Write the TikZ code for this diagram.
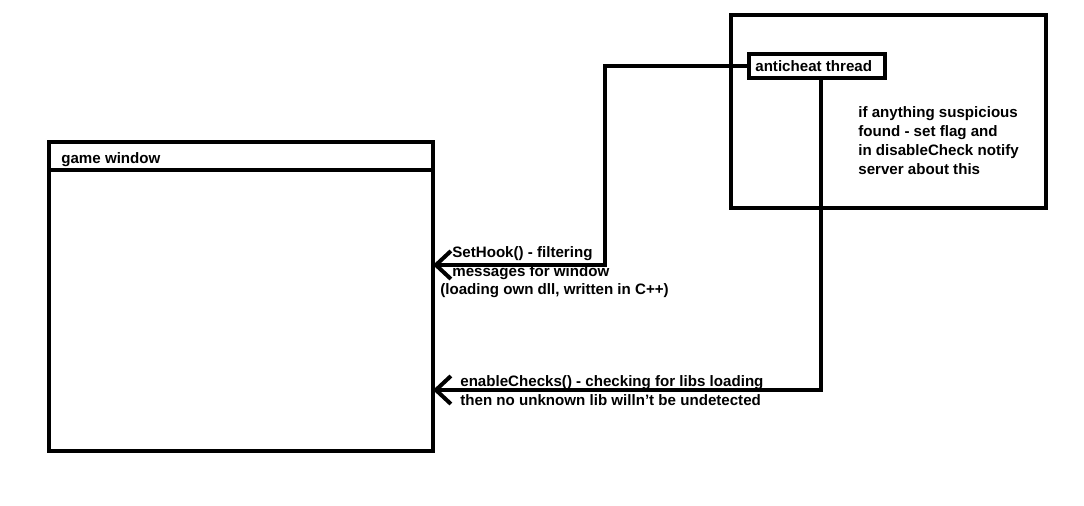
\documentclass[tikz,border=0pt]{standalone}
\usepackage{fontspec}
\setmainfont{Liberation Sans}
\usepackage{tikz}
\usetikzlibrary{calc,arrows,arrows.meta}

\tikzset{
	frame/.style={draw, line width=0.08cm, inner sep=0pt, outer sep=0pt},
	link/.style={line width=0.08cm, -{Straight Barb[length=0.3cm,width=0.56cm,line width=0.08cm]}},
	note/.style={inner sep=0pt, align=left, font=\fontsize{8.6}{10.8}\selectfont\bfseries}
}

\begin{document}
\begin{tikzpicture}[x=0.02cm,y=-0.02cm]
				\useasboundingbox (0,0) rectangle (1084,506);
				% game window
				\node[frame, minimum width=7.68cm, minimum height=6.18cm] (game) at (241,296.5) {};
				\draw[line width=0.08cm] ([yshift=-0.56cm]game.north west) -- ([yshift=-0.56cm]game.north east);
				\node[note, anchor=west] (gametitle) at (61,160) {game window};
				% anticheat side
				\node[frame, minimum width=6.3cm, minimum height=3.86cm] (acarea) at (888.5,111.5) {};
				\node[frame, fill=white, minimum width=2.72cm, minimum height=0.48cm] (thread) at (817,66) {};
				\node[note, anchor=west] (threadtxt) at (755,66) {anticheat thread};
				\node[note, anchor=west] (flagtxt) at (858,140.5) {if anything suspicious\\found - set flag and\\in disableCheck notify\\server about this};
				% connectors
				\draw[link] (thread.west) -| (605,265) -- (game.east |- 0,265);
				\draw[link] ([xshift=0.08cm]thread.south) |- (game.east |- 0,390);
				\node[note, anchor=west] (hooktxt) at (452,263) {SetHook() - filtering\\messages for window};
				\node[note, anchor=west] (dlltxt) at (440,290.5) {(loading own dll, written in C++)};
				\node[note, anchor=west] (checktxt) at (460,390.5) {enableChecks() - checking for libs loading\\then no unknown lib willn't be undetected};
			\end{tikzpicture}
\end{document}
